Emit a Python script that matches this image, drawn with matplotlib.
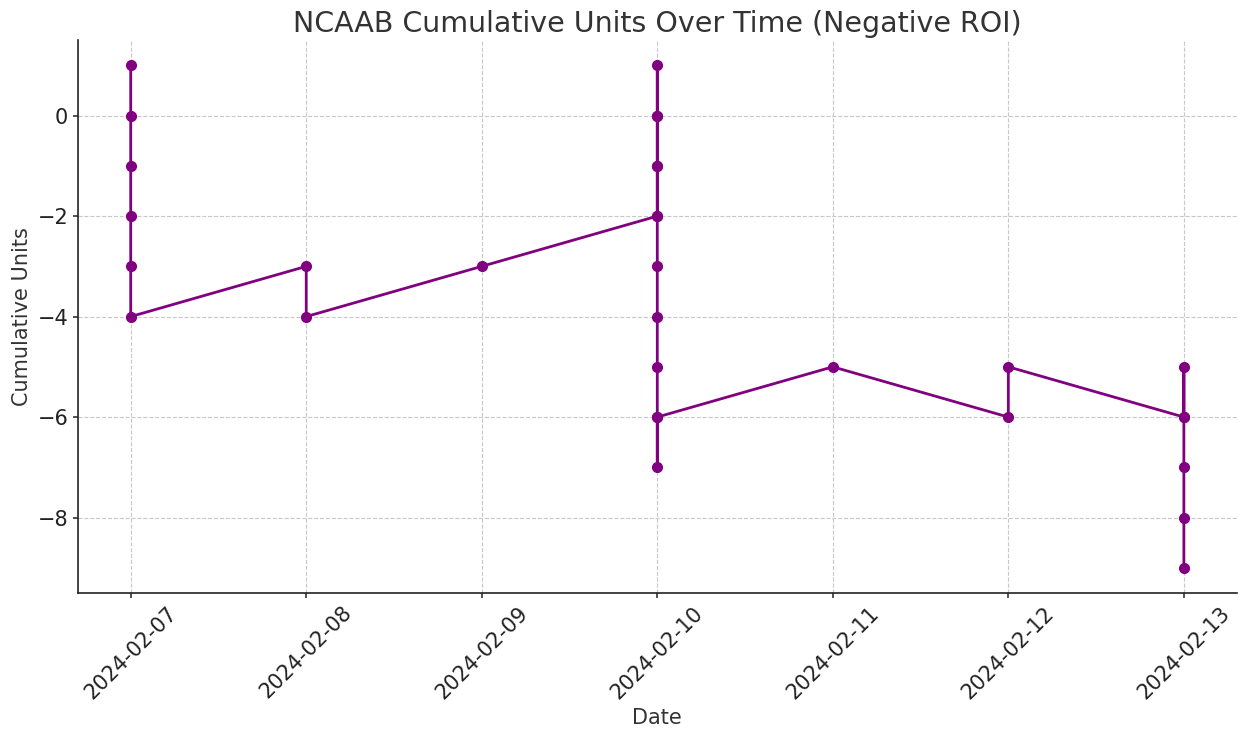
import matplotlib
matplotlib.use("Agg")
import matplotlib.pyplot as plt
import matplotlib.dates as mdates
import pandas as pd

dates = (["2024-02-07"] * 6 + ["2024-02-08"] * 2 + ["2024-02-09"] +
         ["2024-02-10"] * 13 + ["2024-02-11"] + ["2024-02-12"] * 2 +
         ["2024-02-13"] * 6)
units = [1, 0, -1, -2, -3, -4,
         -3, -4,
         -3,
         -2, -1, 0, 1, 0, -1, -2, -3, -4, -5, -6, -7, -6,
         -5,
         -6, -5,
         -6, -5, -6, -7, -8, -9]

x = pd.to_datetime(dates)

plt.rcParams['font.family'] = ['DejaVu Sans']
fig = plt.figure(figsize=(12.39, 7.32), dpi=100)
ax = fig.add_axes([0.063, 0.19, 0.935, 0.755])
ax.plot(x, units, marker='o', color='purple', linewidth=2, markersize=7)
ax.set_title('NCAAB Cumulative Units Over Time (Negative ROI)', fontsize=20.5, color='#333333')
ax.set_xlabel('Date', fontsize=15, color='#333333')
ax.set_ylabel('Cumulative Units', fontsize=15, color='#333333')
ax.xaxis.set_major_locator(mdates.DayLocator())
ax.xaxis.set_major_formatter(mdates.DateFormatter('%Y-%m-%d'))
ax.tick_params(axis='both', labelsize=15, colors='#222222', labelcolor='#222222', width=1.1)
plt.setp(ax.get_xticklabels(), rotation=45)
ax.grid(True, linestyle='--', color='#c8c8c8', linewidth=0.8)
for s in ['top', 'right']:
    ax.spines[s].set_visible(False)
for s in ['left', 'bottom']:
    ax.spines[s].set_color('#222222')
    ax.spines[s].set_linewidth(1.2)
ax.set_yticks([0, -2, -4, -6, -8])
fig.savefig('out.png', dpi=100)
